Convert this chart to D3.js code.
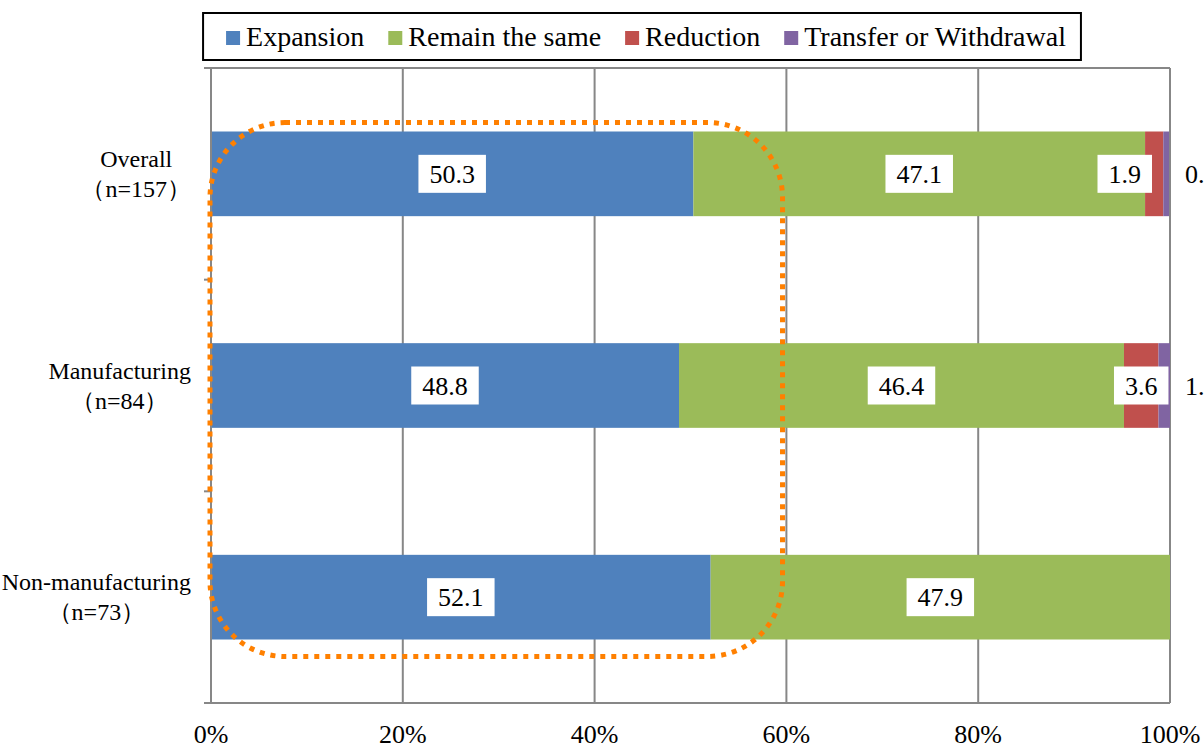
<!DOCTYPE html>
<html>
<head>
<meta charset="utf-8">
<script src="https://cdn.jsdelivr.net/npm/d3@7"></script>
<style>
  body { margin: 0; background: #fff; }
  text { font-family: "Liberation Serif", "Times New Roman", serif; fill: #000; }
</style>
</head>
<body>
<svg width="1204" height="748"></svg>
<script>
  // Chart data
  var categories = ["Overall", "Manufacturing", "Non-manufacturing"];
  var sampleSizes = ["（n=157）", "（n=84）", "（n=73）"];
  var seriesNames = ["Expansion", "Remain the same", "Reduction", "Transfer or Withdrawal"];
  var expansion = [50.3, 48.8, 52.1];
  var remainSame = [47.1, 46.4, 47.9];
  var reduction = [1.9, 3.6, 0];
  var transfer = [0.6, 1.2, 0];
  var tickValues = [0, 20, 40, 60, 80, 100];
  var colors = ["#4F81BD", "#9BBB59", "#C0504D", "#8064A2"];

  var margin = { top: 68, right: 34, bottom: 45, left: 211 };
  var width = 1204 - margin.left - margin.right;
  var height = 748 - margin.top - margin.bottom;

  var dataset = categories.map(function(c, i) {
    return {
      name: c,
      n: sampleSizes[i],
      values: [expansion[i], remainSame[i], reduction[i], transfer[i]]
    };
  });

  var xScale = d3.scaleLinear().domain([0, 100]).range([0, width]);
  var yScale = d3.scaleBand().domain(categories).range([0, height]).paddingInner(0.6).paddingOuter(0.3);
  var bandStep = yScale.step();

  var svg = d3.select("svg")
    .append("g")
    .attr("transform", "translate(" + margin.left + "," + margin.top + ")");

  // Gridlines
  svg.append("g")
    .selectAll("line")
    .data(tickValues)
    .enter()
    .append("line")
    .attr("x1", function(d) { return xScale(d); })
    .attr("x2", function(d) { return xScale(d); })
    .attr("y1", 0)
    .attr("y2", height)
    .style("stroke", "#878787")
    .style("stroke-width", 2);

  // top border
  svg.append("line")
    .attr("x1", -7).attr("x2", width)
    .attr("y1", 0).attr("y2", 0)
    .style("stroke", "#878787").style("stroke-width", 2);

  // y-axis ticks at band boundaries
  svg.append("g")
    .selectAll("line")
    .data(d3.range(categories.length + 1))
    .enter()
    .append("line")
    .attr("x1", -7).attr("x2", 0)
    .attr("y1", function(d) { return d * bandStep; })
    .attr("y2", function(d) { return d * bandStep; })
    .style("stroke", "#878787").style("stroke-width", 2);

  // Stacked bars
  var rows = svg.selectAll(".row")
    .data(dataset)
    .enter()
    .append("g")
    .attr("class", "row");

  rows.each(function(d) {
    var g = d3.select(this);
    var cum = 0;
    d.values.forEach(function(v, k) {
      var x0 = cum;
      cum += v;
      if (v <= 0) return;
      g.append("rect")
        .attr("x", xScale(x0))
        .attr("y", yScale(d.name))
        .attr("width", xScale(x0 + v) - xScale(x0))
        .attr("height", yScale.bandwidth())
        .attr("fill", colors[k]);
    });
  });

  // Bottom axis line and left axis line
  svg.append("line")
    .attr("x1", -7).attr("x2", width)
    .attr("y1", height).attr("y2", height)
    .style("stroke", "#878787").style("stroke-width", 2);
  svg.append("line")
    .attr("x1", 0).attr("x2", 0)
    .attr("y1", 0).attr("y2", height)
    .style("stroke", "#878787").style("stroke-width", 2);

  // Data labels
  rows.each(function(d) {
    var g = d3.select(this);
    var cum = 0;
    var cy = yScale(d.name) + yScale.bandwidth() / 2;
    d.values.forEach(function(v, k) {
      var x0 = cum;
      cum += v;
      if (v <= 0) return;
      if (k === 3) {
        // small segment: label outside to the right (clipped by the page edge)
        g.append("text")
          .attr("x", xScale(100) + 15)
          .attr("y", cy + 9)
          .style("font-size", "26px")
          .text(v.toFixed(1));
        return;
      }
      var cx = xScale(x0 + v / 2);
      var t = g.append("text")
        .attr("text-anchor", "middle")
        .attr("y", cy + 9)
        .style("font-size", "26px")
        .text(v.toFixed(1));
      var w = t.node().getComputedTextLength() + 22;
      if (cx + w / 2 > xScale(100)) cx = xScale(100) - 18 - w / 2;
      t.attr("x", cx);
      g.insert("rect", function() { return t.node(); })
        .attr("x", cx - w / 2)
        .attr("y", cy - 19)
        .attr("width", w)
        .attr("height", 38)
        .attr("fill", "#fff");
    });
  });

  // Category labels
  var catLabels = svg.append("g");
  dataset.forEach(function(d) {
    var cy = yScale(d.name) + yScale.bandwidth() / 2;
    var lg = catLabels.append("g");
    var t1 = lg.append("text").attr("y", cy - 7).style("font-size", "24px").attr("text-anchor", "middle").text(d.name);
    var t2 = lg.append("text").attr("y", cy + 23).style("font-size", "24px").attr("text-anchor", "middle").text(d.n);
    var w = Math.max(t1.node().getComputedTextLength(), t2.node().getComputedTextLength());
    lg.selectAll("text").attr("x", -20 - w / 2);
  });

  // X axis labels
  svg.append("g")
    .selectAll("text")
    .data(tickValues)
    .enter()
    .append("text")
    .attr("x", function(d) { return xScale(d); })
    .attr("y", height + 40)
    .attr("text-anchor", "middle")
    .style("font-size", "26px")
    .text(function(d) { return d + "%"; });

  // Orange dotted highlight around expansion column
  var hlTop = yScale(categories[0]) - 9;
  var hlBottom = yScale(categories[2]) + yScale.bandwidth() + 17;
  svg.append("rect")
    .attr("x", xScale(0) - 1)
    .attr("y", hlTop)
    .attr("width", xScale(59.7) - xScale(0))
    .attr("height", hlBottom - hlTop)
    .attr("rx", 75)
    .attr("ry", 75)
    .attr("fill", "none")
    .style("stroke", "#FF8000")
    .style("stroke-width", 5)
    .style("stroke-dasharray", "5,6");

  // Legend
  var legend = d3.select("svg").append("g");
  var items = [];
  var lx = 0;
  seriesNames.forEach(function(name, i) {
    var item = legend.append("g");
    item.append("rect").attr("x", 0).attr("y", -15).attr("width", 14).attr("height", 14).attr("fill", colors[i]);
    var t = item.append("text").attr("x", 20).attr("y", 0).style("font-size", "28px").text(name);
    var w = 20 + t.node().getComputedTextLength();
    items.push({ g: item, x: lx });
    lx += w + 24;
  });
  var legendW = lx - 24;
  var legendCenter = 646;
  var startX = legendCenter - legendW / 2;
  items.forEach(function(it) {
    it.g.attr("transform", "translate(" + (startX + it.x) + ",46)");
  });
  legend.insert("rect", ":first-child")
    .attr("x", startX - 23)
    .attr("y", 13)
    .attr("width", legendW + 38)
    .attr("height", 47)
    .attr("fill", "#fff")
    .style("stroke", "#000")
    .style("stroke-width", 2);
</script>
</body>
</html>
